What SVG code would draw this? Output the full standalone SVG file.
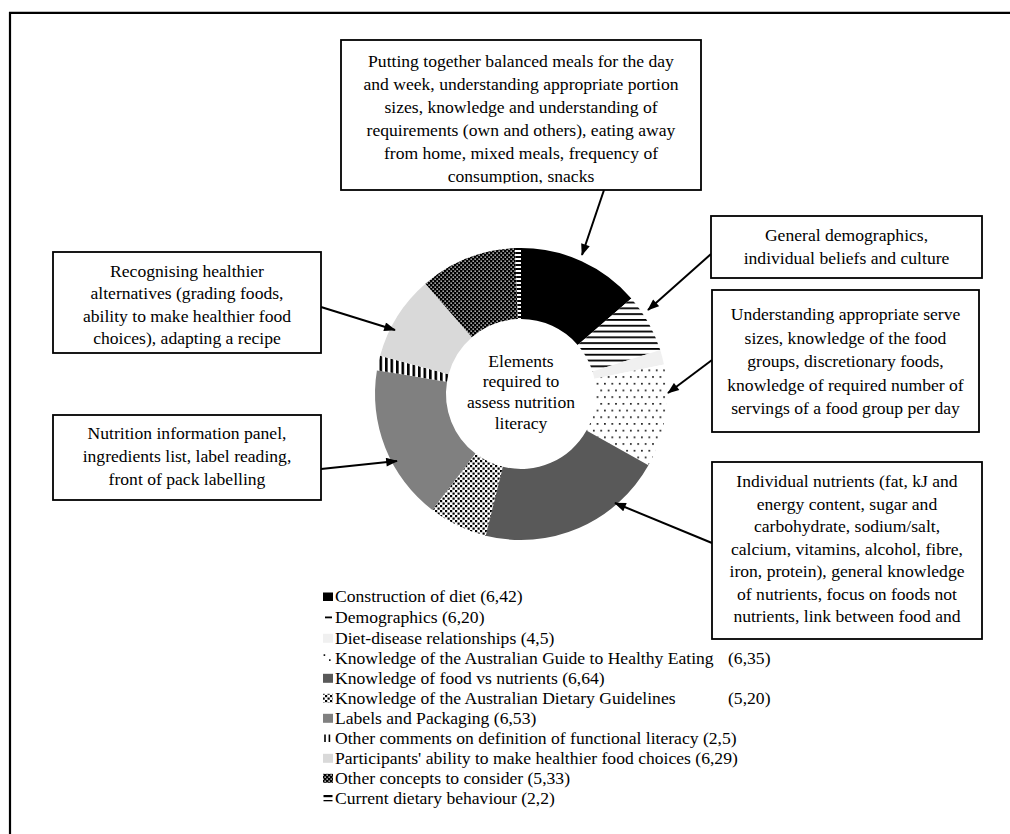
<svg xmlns="http://www.w3.org/2000/svg" width="1010" height="834" viewBox="0 0 1010 834">
<style>
  .t { font-family: "Liberation Serif", "Times New Roman", serif; font-size: 17.6px; fill: #000; }
  .box { fill: #fff; stroke: #000; stroke-width: 1.8; }
  .conn { stroke: #000; stroke-width: 2; fill: none; }
  .frame { stroke: #000; stroke-width: 2.2; fill: none; }
  .k { fill: #000; }
</style>
<defs>
  <pattern id="pHstripe" patternUnits="userSpaceOnUse" width="8" height="5.8">
    <rect width="8" height="5.8" fill="#fff"/>
    <rect y="0" width="8" height="1.8" fill="#000"/>
  </pattern>
  <pattern id="pHstripe2" patternUnits="userSpaceOnUse" width="8" height="4">
    <rect width="8" height="4" fill="#fff"/>
    <rect y="0" width="8" height="2" fill="#000"/>
  </pattern>
  <pattern id="pVstripe" patternUnits="userSpaceOnUse" width="5.5" height="8">
    <rect width="5.5" height="8" fill="#fff"/>
    <rect x="0" width="2.6" height="8" fill="#000"/>
  </pattern>
  <pattern id="pSparse" patternUnits="userSpaceOnUse" width="7.4" height="13.4">
    <rect width="7.4" height="13.4" fill="#fff"/>
    <rect x="1" y="1" width="1.6" height="1.6" fill="#000"/>
    <rect x="4.7" y="7.7" width="1.6" height="1.6" fill="#000"/>
  </pattern>
  <pattern id="pDense" patternUnits="userSpaceOnUse" width="5" height="5">
    <rect width="5" height="5" fill="#fff"/>
    <rect x="0" y="0" width="2.2" height="2.2" fill="#000"/>
    <rect x="2.5" y="2.5" width="2.2" height="2.2" fill="#000"/>
  </pattern>
  <pattern id="pDarkDots" patternUnits="userSpaceOnUse" width="4" height="4">
    <rect width="4" height="4" fill="#000"/>
    <rect x="0.5" y="0.5" width="1.3" height="1.3" fill="#fff"/>
    <rect x="2.5" y="2.5" width="1.3" height="1.3" fill="#fff"/>
  </pattern>
  <marker id="arr" markerUnits="userSpaceOnUse" viewBox="0 0 13 10" markerWidth="13" markerHeight="9" refX="12" refY="5" orient="auto">
    <path d="M0,0 L13,5 L0,10 Z" fill="#000"/>
  </marker>
  <clipPath id="clipTop"><rect x="341" y="40" width="360" height="143.5"/></clipPath>
  <clipPath id="clipNut"><rect x="712" y="462" width="270" height="174"/></clipPath>
</defs>

<rect width="1010" height="834" fill="#fff"/>

<g id="frame">
  <line class="frame" x1="9" y1="12.8" x2="1010" y2="12.8"/>
  <line class="frame" x1="10" y1="12" x2="10" y2="834"/>
</g>

<g id="donut">
  <path id="s-construction" d="M521,248 A146,146 0 0 1 631.34,298.38 L577.68,344.88 A75,75 0 0 0 521,319 Z" fill="#000"/>
  <path id="s-demographics" d="M631.34,298.38 A146,146 0 0 1 660.22,350.02 L592.52,371.41 A75,75 0 0 0 577.68,344.88 Z" fill="url(#pHstripe)"/>
  <path id="s-dietdisease" d="M660.22,350.02 A146,146 0 0 1 663.97,364.42 L594.45,378.81 A75,75 0 0 0 592.52,371.41 Z" fill="#f0f0f0"/>
  <path id="s-aghe" d="M663.97,364.42 A146,146 0 0 1 648.42,465.27 L586.46,430.61 A75,75 0 0 0 594.45,378.81 Z" fill="url(#pSparse)"/>
  <path id="s-foodnut" d="M648.42,465.27 A146,146 0 0 1 485.62,535.65 L502.82,466.76 A75,75 0 0 0 586.46,430.61 Z" fill="#595959"/>
  <path id="s-adg" d="M485.62,535.65 A146,146 0 0 1 432.32,509.98 L475.44,453.58 A75,75 0 0 0 502.82,466.76 Z" fill="url(#pDense)"/>
  <path id="s-labels" d="M432.32,509.98 A146,146 0 0 1 376.94,370.28 L447,381.81 A75,75 0 0 0 475.44,453.58 Z" fill="#808080"/>
  <path id="s-othercomments" d="M376.94,370.28 A146,146 0 0 1 380.1,355.73 L448.62,374.34 A75,75 0 0 0 447,381.81 Z" fill="url(#pVstripe)"/>
  <path id="s-participants" d="M380.1,355.73 A146,146 0 0 1 425.39,283.66 L471.89,337.32 A75,75 0 0 0 448.62,374.34 Z" fill="#d9d9d9"/>
  <path id="s-otherconcepts" d="M425.39,283.66 A146,146 0 0 1 515.04,248.12 L517.94,319.06 A75,75 0 0 0 471.89,337.32 Z" fill="url(#pDarkDots)"/>
  <path id="s-current" d="M515.04,248.12 A146,146 0 0 1 521,248 L521,319 A75,75 0 0 0 517.94,319.06 Z" fill="url(#pHstripe2)"/>
  <text class="t" text-anchor="middle"><tspan x="521" y="366.5">Elements</tspan><tspan x="521" y="387.2">required to</tspan><tspan x="521" y="407.9">assess nutrition</tspan><tspan x="521" y="428.6">literacy</tspan></text>
</g>

<g id="connectors">
  <line class="conn" x1="604" y1="190" x2="582" y2="255" marker-end="url(#arr)"/>
  <line class="conn" x1="711" y1="254" x2="648" y2="310" marker-end="url(#arr)"/>
  <line class="conn" x1="712" y1="360" x2="668" y2="393" marker-end="url(#arr)"/>
  <line class="conn" x1="712" y1="543" x2="615" y2="503" marker-end="url(#arr)"/>
  <line class="conn" x1="321" y1="307" x2="395" y2="330" marker-end="url(#arr)"/>
  <line class="conn" x1="321" y1="469" x2="397" y2="461" marker-end="url(#arr)"/>
</g>

<g id="box-construction">
  <rect class="box" x="341" y="40" width="360" height="150"/>
  <text class="t" text-anchor="middle" clip-path="url(#clipTop)"><tspan x="521" y="67">Putting together balanced meals for the day</tspan><tspan x="521" y="90">and week, understanding appropriate portion</tspan><tspan x="521" y="113">sizes, knowledge and understanding of</tspan><tspan x="521" y="136">requirements (own and others), eating away</tspan><tspan x="521" y="159">from home, mixed meals, frequency of</tspan><tspan x="521" y="182">consumption, snacks</tspan></text>
</g>

<g id="box-demographics">
  <rect class="box" x="711" y="216" width="271" height="62"/>
  <text class="t" text-anchor="middle"><tspan x="846.5" y="241">General demographics,</tspan><tspan x="846.5" y="264">individual beliefs and culture</tspan></text>
</g>

<g id="box-aghe">
  <rect class="box" x="712" y="290" width="267" height="142"/>
  <text class="t" text-anchor="middle"><tspan x="845.5" y="320">Understanding appropriate serve</tspan><tspan x="845.5" y="343.5">sizes, knowledge of the food</tspan><tspan x="845.5" y="367">groups, discretionary foods,</tspan><tspan x="845.5" y="390.5">knowledge of required number of</tspan><tspan x="845.5" y="414">servings of a food group per day</tspan></text>
</g>

<g id="box-nutrients">
  <rect class="box" x="712" y="462" width="270" height="177"/>
  <text class="t" text-anchor="middle" clip-path="url(#clipNut)"><tspan x="847" y="487">Individual nutrients (fat, kJ and</tspan><tspan x="847" y="509.5">energy content, sugar and</tspan><tspan x="847" y="532">carbohydrate, sodium/salt,</tspan><tspan x="847" y="554.5">calcium, vitamins, alcohol, fibre,</tspan><tspan x="847" y="577">iron, protein), general knowledge</tspan><tspan x="847" y="599.5">of nutrients, focus on foods not</tspan><tspan x="847" y="622">nutrients, link between food and</tspan></text>
</g>

<g id="box-healthier">
  <rect class="box" x="53" y="252" width="268" height="101"/>
  <text class="t" text-anchor="middle"><tspan x="187" y="276.5">Recognising healthier</tspan><tspan x="187" y="299">alternatives (grading foods,</tspan><tspan x="187" y="321.5">ability to make healthier food</tspan><tspan x="187" y="344">choices), adapting a recipe</tspan></text>
</g>

<g id="box-labels">
  <rect class="box" x="53" y="415" width="268" height="85"/>
  <text class="t" text-anchor="middle"><tspan x="187" y="438.5">Nutrition information panel,</tspan><tspan x="187" y="461.5">ingredients list, label reading,</tspan><tspan x="187" y="484.5">front of pack labelling</tspan></text>
</g>

<g id="legend">
  <rect x="323" y="592.5" width="10" height="8.5" fill="#000"/>
  <rect x="325" y="616.5" width="7" height="1.8" fill="#000"/>
  <rect x="323" y="633.8" width="10" height="9" fill="#f0f0f0"/>
  <rect class="k" x="323.6" y="654.3" width="1.6" height="1.6"/>
  <rect class="k" x="329" y="659.3" width="1.6" height="1.6"/>
  <rect x="323" y="673.8" width="10" height="9" fill="#595959"/>
  <rect x="323" y="693.8" width="10" height="9" fill="url(#pDense)"/>
  <rect x="323" y="713.8" width="10" height="9" fill="#808080"/>
  <rect class="k" x="324.2" y="734.5" width="1.6" height="7.5"/>
  <rect class="k" x="328.6" y="734.5" width="1.6" height="7.5"/>
  <rect x="323" y="753.8" width="10" height="9" fill="#d9d9d9"/>
  <rect x="323" y="773.8" width="10" height="9" fill="url(#pDarkDots)"/>
  <rect class="k" x="323.5" y="795" width="9" height="2.2"/>
  <rect class="k" x="323.5" y="800" width="9" height="1.3"/>
  <text class="t" x="335" y="602">Construction of diet (6,42)</text>
  <text class="t" x="335" y="622.6">Demographics (6,20)</text>
  <text class="t" x="335" y="643.6">Diet-disease relationships (4,5)</text>
  <text class="t" x="335" y="663.6">Knowledge of the Australian Guide to Healthy Eating<tspan x="728">(6,35)</tspan></text>
  <text class="t" x="335" y="683.6">Knowledge of food vs nutrients (6,64)</text>
  <text class="t" x="335" y="703.6">Knowledge of the Australian Dietary Guidelines<tspan x="728">(5,20)</tspan></text>
  <text class="t" x="335" y="723.6">Labels and Packaging (6,53)</text>
  <text class="t" x="335" y="743.6">Other comments on definition of functional literacy (2,5)</text>
  <text class="t" x="335" y="763.6">Participants' ability to make healthier food choices (6,29)</text>
  <text class="t" x="335" y="783.6">Other concepts to consider (5,33)</text>
  <text class="t" x="335" y="803.6">Current dietary behaviour (2,2)</text>
</g>
</svg>
